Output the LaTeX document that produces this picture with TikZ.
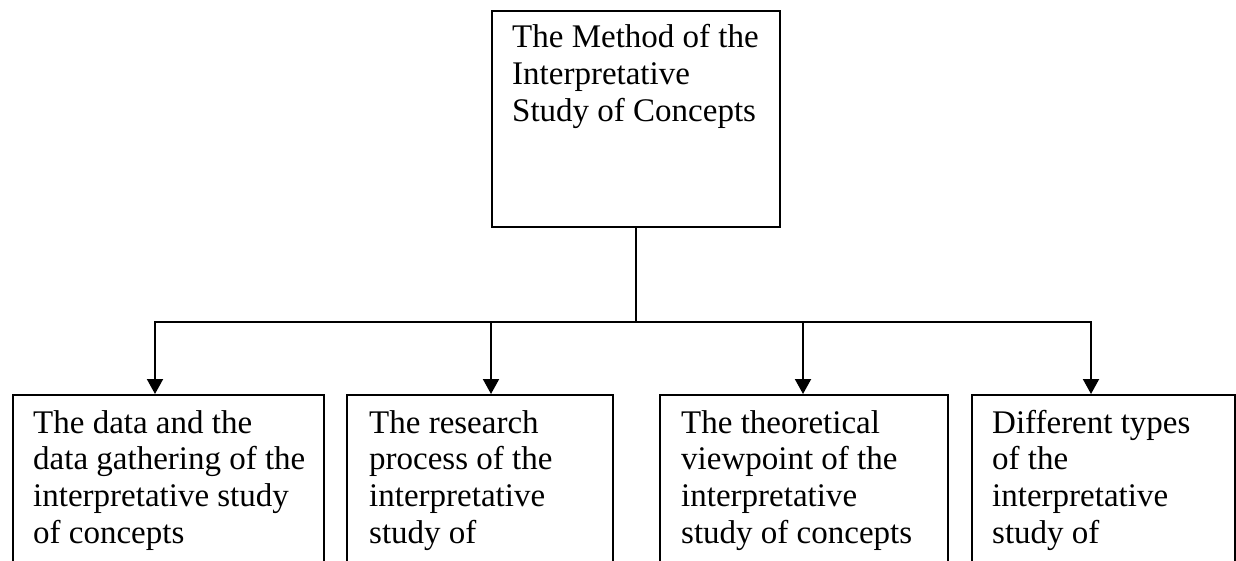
\documentclass[tikz,border=0pt]{standalone}
\usepackage{fontspec}
\setmainfont{Liberation Serif}
\usetikzlibrary{arrows.meta}
\begin{document}
\begin{tikzpicture}[x=1pt,y=-1pt,
  frame/.style={draw, line width=2pt, inner sep=0pt, anchor=north west},
  boxtext/.style={anchor=base west, inner sep=0pt},
  link/.style={line width=2pt, line cap=rect},
  arr/.style={line width=2pt, -{Triangle[length=15pt,width=16pt]}}
]
\newcommand{\cell}[1]{\parbox[t]{320pt}{\raggedright\fontsize{33}{36.8}\selectfont #1}}
\useasboundingbox (0,0) rectangle (1236,561);
\clip (0,0) rectangle (1236,561);

% boxes
\node[frame, minimum width=288pt, minimum height=216pt] (top) at (491,10) {};
\node[frame, minimum width=311pt, minimum height=220pt] (b1) at (12,394) {};
\node[frame, minimum width=266pt, minimum height=220pt] (b2) at (346,394) {};
\node[frame, minimum width=288pt, minimum height=220pt] (b3) at (659,394) {};
\node[frame, minimum width=263pt, minimum height=220pt] (b4) at (971,394) {};

% texts
\node[boxtext] (ttop) at ([xshift=21pt,yshift=-38pt]top.north west)
  {\cell{The Method of the\\Interpretative\\Study of Concepts}};
\node[boxtext] (t1) at ([xshift=21pt,yshift=-39pt]b1.north west)
  {\cell{The data and the\\data gathering of the\\interpretative study\\of concepts}};
\node[boxtext] (t2) at ([xshift=23pt,yshift=-39pt]b2.north west)
  {\cell{The research\\process of the\\interpretative\\study of}};
\node[boxtext] (t3) at ([xshift=22pt,yshift=-39pt]b3.north west)
  {\cell{The theoretical\\viewpoint of the\\interpretative\\study of concepts}};
\node[boxtext] (t4) at ([xshift=21pt,yshift=-39pt]b4.north west)
  {\cell{Different types\\of the\\interpretative\\study of}};

% connectors
\coordinate (j1) at (155,322);
\coordinate (j2) at (491,322);
\coordinate (j3) at (803,322);
\coordinate (j4) at (1091,322);
\coordinate (hub) at (top.south |- j1);
\draw[link] (top.south) -- (hub);
\draw[link] (j1) -- (j4);
\draw[arr] (j1) -- (j1 |- b1.north);
\draw[arr] (j2) -- (j2 |- b2.north);
\draw[arr] (j3) -- (j3 |- b3.north);
\draw[arr] (j4) -- (j4 |- b4.north);
\end{tikzpicture}
\end{document}
